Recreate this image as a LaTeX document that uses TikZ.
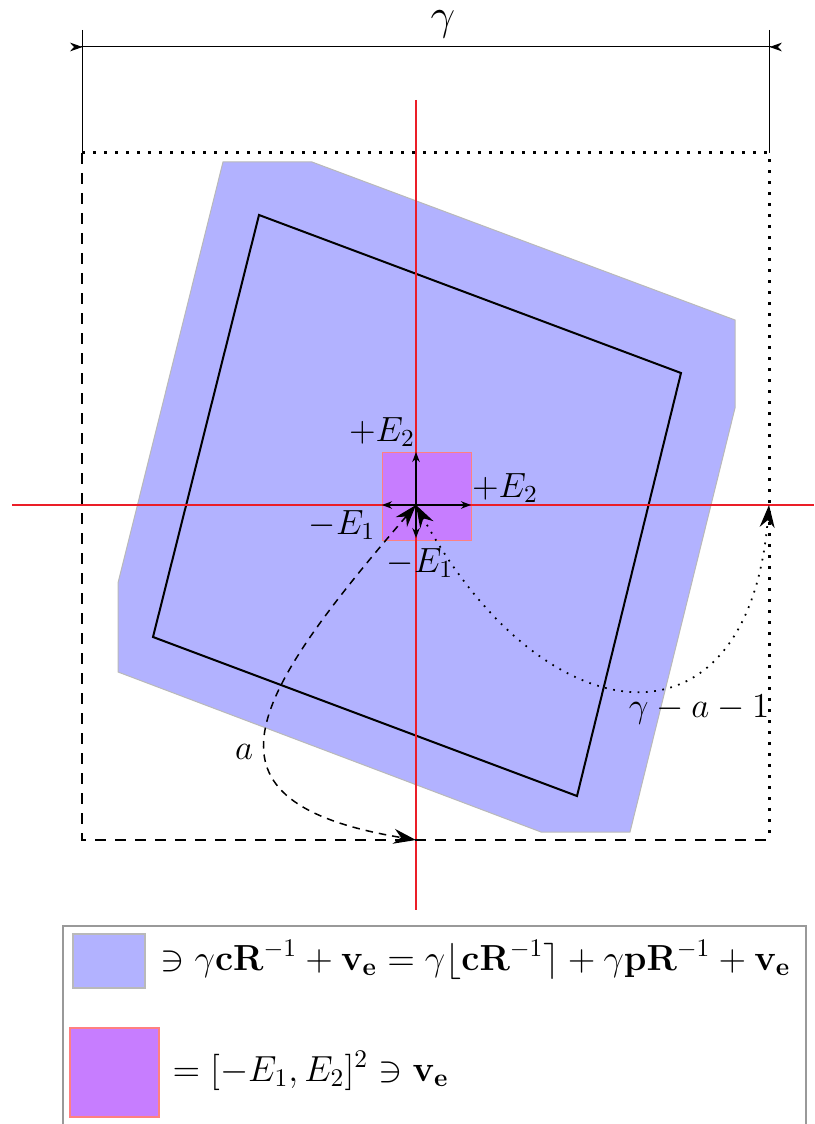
\RequirePackage{fix-cm}
\documentclass[tikz,border=0pt]{standalone}
\usetikzlibrary{arrows.meta}
\definecolor{polyblue}{RGB}{178,178,255}
\definecolor{boxviolet}{RGB}{199,125,255}
\definecolor{boxedge}{RGB}{255,128,128}
\definecolor{axisred}{RGB}{235,30,40}
\begin{document}
\begin{tikzpicture}[x=0.4pt,y=-0.4pt,
  lbl/.style={font=\fontsize{14}{16.8}\selectfont, inner sep=0pt},
  leglbl/.style={font=\fontsize{14.5}{17.4}\selectfont, inner sep=0pt},
  biglbl/.style={font=\fontsize{17.5}{21}\selectfont, inner sep=0pt},
  axisline/.style={draw=axisred, line width=0.5pt},
  framedash/.style={line width=1pt, dash pattern=on 4.5pt off 3.5pt},
  framedot/.style={line width=1.2pt, dash pattern=on 1.2pt off 3.2pt},
  dimline/.style={line width=0.4pt},
  smallarrow/.style={line width=0.6pt, -{Stealth[length=4pt,width=3pt]}},
  bigtips/.style={{Stealth[length=9pt,width=6pt]}-{Stealth[length=9pt,width=6pt]}},
  curvedash/.style={line width=0.6pt, dash pattern=on 3pt off 2.4pt},
  curvedot/.style={line width=0.7pt, dash pattern=on 0.7pt off 2.6pt},
]
\useasboundingbox (0,0) rectangle (814,1124);

% coordinates
\coordinate (O) at (416,505);
\coordinate (B) at (416,840);
\coordinate (Rt) at (769,505);
\coordinate (TL) at (82,153);
\coordinate (TR) at (769,153);
\coordinate (BL) at (82,840);
\coordinate (BR) at (769,840);
\coordinate (D1) at (70,47);
\coordinate (D2) at (782,47);
\coordinate (E1) at (82,30);
\coordinate (E2) at (769,30);

% blue region
\fill[polyblue, draw=gray!55, line width=0.4pt]
  (223,162) -- (312,162) -- (735,320) -- (735,408) -- (630,832) -- (541,832) -- (118,672) -- (118,583) -- cycle;
% inner rotated square
\draw[line width=0.8pt] (259,215) -- (681,373) -- (577,796) -- (153,637) -- cycle;
% violet box
\filldraw[fill=boxviolet, draw=boxedge, line width=0.4pt] (382,452) rectangle (471,540);

% axes
\coordinate (AxL) at (12,505);
\coordinate (AxR) at (814,505);
\coordinate (AxT) at (416,100);
\coordinate (AxB) at (416,910);
\draw[axisline] (AxL) -- (AxR);
\draw[axisline] (AxT) -- (AxB);

% frame
\draw[framedot] (TL) -- (TR) -- (BR);
\draw[framedash] (TL) -- (BL) -- (BR);

% dimension
\draw[dimline] (E1) -- (TL);
\draw[dimline] (E2) -- (TR);
\draw[dimline, {Stealth[reversed,length=5pt,width=3.5pt]}-{Stealth[reversed,length=5pt,width=3.5pt]}] (D1) -- (D2);
\node[biglbl] (gam) at (443,24) {$\gamma$};

% small arrows
\coordinate (Up) at (416,452);
\coordinate (Rg) at (471,505);
\coordinate (Lf) at (382,505);
\coordinate (Dn) at (416,538);
\draw[smallarrow] (O) -- (Up);
\draw[smallarrow] (O) -- (Rg);
\draw[smallarrow] (O) -- (Lf);
\draw[smallarrow] (O) -- (Dn);
\node[lbl] (lu) at (382,432) {$+E_2$};
\node[lbl] (lr) at (505,488) {$+E_2$};
\node[lbl] (ll) at (342,525) {$-E_1$};
\node[lbl] (ld) at (420,563) {$-E_1$};

% curves
\draw[curvedash, bigtips] (O) .. controls (248,700) and (188,802) .. (B);
\draw[curvedot, bigtips] (O) .. controls (545,740) and (748,760) .. (Rt);
\node[lbl] (la) at (244,752) {$a$};
\node[lbl] (lg) at (699,710) {$\gamma-a-1$};

% legend
\coordinate (L1) at (63,1130);
\coordinate (L2) at (63,926);
\coordinate (L3) at (806,926);
\coordinate (L4) at (806,1130);
\draw[gray!80, line width=0.6pt] (L1) -- (L2) -- (L3) -- (L4);
\filldraw[fill=polyblue, draw=gray!55, line width=0.6pt] (73,934) rectangle (145,988);
\filldraw[fill=boxviolet, draw=boxedge, line width=0.6pt] (70,1028) rectangle (159,1117);
\node[leglbl, anchor=base west] (t1) at (160,970)
  {$\ni \gamma\mathbf{c}\mathbf{R}^{-1}+\mathbf{v_e}=\gamma\lfloor\mathbf{c}\mathbf{R}^{-1}\rceil+\gamma\mathbf{p}\mathbf{R}^{-1}+\mathbf{v_e}$};
\node[leglbl, anchor=base west] (t2) at (172,1081)
  {$=[-E_1,E_2]^2\ni\mathbf{v_e}$};
\end{tikzpicture}
\end{document}
